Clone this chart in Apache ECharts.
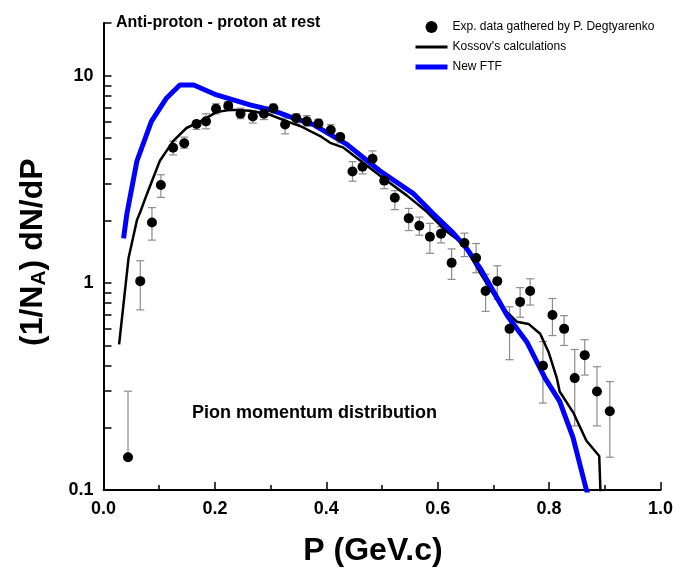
<!DOCTYPE html>
<html><head><meta charset="utf-8">
<script src="https://cdn.jsdelivr.net/npm/echarts@6/dist/echarts.min.js"></script>
<style>html,body{margin:0;padding:0;background:#fff}#c{width:676px;height:572px}</style>
</head><body><div id="c"></div>
<script>
// Experimental data (P in GeV/c)
const expP  = [0.044,0.066,0.087,0.103,0.125,0.145,0.167,0.184,0.202,0.224,0.246,0.268,0.288,0.305,0.326,0.346,0.365,0.386,0.408,0.425,0.447,0.465,0.483,0.504,0.523,0.548,0.567,0.586,0.606,0.625,0.648,0.669,0.686,0.707,0.729,0.748,0.766,0.789,0.806,0.827,0.846,0.864,0.886,0.909];
const expY  = [0.144,1.02,1.96,2.97,4.50,4.73,5.86,6.03,6.93,7.16,6.56,6.37,6.56,6.98,5.82,6.25,6.03,5.88,5.48,5.06,3.45,3.64,3.98,3.12,2.58,2.05,1.89,1.67,1.73,1.25,1.56,1.32,0.914,1.02,0.60,0.81,0.914,0.398,0.70,0.60,0.347,0.448,0.299,0.240];
const expHi = [0.30,1.28,2.31,3.33,4.84,5.06,6.08,6.56,7.33,7.52,6.98,6.79,6.93,7.30,6.25,6.56,6.43,6.17,5.82,5.27,3.85,3.97,4.34,3.30,2.79,2.29,2.08,1.94,1.87,1.46,1.74,1.55,1.10,1.21,0.767,0.949,1.047,0.521,0.841,0.695,0.477,0.532,0.394,0.334];
const expLo = [0.144,0.741,1.61,2.59,4.15,4.47,5.51,5.55,6.56,6.79,6.21,5.92,6.15,6.61,5.25,5.86,5.71,5.60,5.17,4.75,3.10,3.36,3.68,2.85,2.26,1.79,1.70,1.39,1.56,1.04,1.34,1.12,0.729,0.834,0.426,0.683,0.782,0.263,0.557,0.499,0.204,0.359,0.204,0.144];
// Kossov's calculations
const kosP = [0.028,0.045,0.060,0.066,0.078,0.101,0.125,0.149,0.174,0.203,0.227,0.263,0.299,0.329,0.354,0.389,0.407,0.431,0.466,0.496,0.545,0.581,0.616,0.640,0.652,0.676,0.713,0.742,0.763,0.784,0.799,0.814,0.819,0.844,0.867,0.890,0.896];
const kosY = [0.505,1.32,2.01,2.2,2.69,3.88,4.84,5.6,6.03,6.68,6.86,6.79,6.49,6.03,5.71,5.12,4.75,4.5,3.81,3.30,2.64,2.20,1.77,1.59,1.45,1.12,0.775,0.65,0.634,0.568,0.464,0.346,0.299,0.235,0.173,0.146,0.05];
// New FTF
const ftfP = [0.036,0.042,0.060,0.086,0.113,0.137,0.162,0.203,0.263,0.299,0.317,0.334,0.377,0.437,0.496,0.557,0.592,0.628,0.652,0.676,0.688,0.725,0.760,0.793,0.819,0.843,0.867,0.873];
const ftfY = [1.64,2.16,3.88,6.03,7.80,9.03,9.03,8.09,7.24,6.86,6.61,6.35,5.82,4.67,3.48,2.69,2.16,1.74,1.47,1.18,1.04,0.695,0.519,0.346,0.268,0.179,0.100,0.09];
// Axis ticks
const yMajor = [0.1, 1, 10];
const yTicks = [0.2,0.3,0.4,0.5,0.6,0.7,0.8,0.9,1,2,3,4,5,6,7,8,9,10,18];

const FONT = "'Liberation Sans', Arial, sans-serif";
const chart = echarts.init(document.getElementById('c'), null, {renderer:'canvas'});

const zip = (a,b) => a.map((v,i)=>[v,b[i]]);
const errData = expP.map((p,i)=>[p, expLo[i], expHi[i]]);

chart.setOption({
  animation:false,
  backgroundColor:'#fff',
  grid:{left:103.5, right:15.5, top:23, bottom:78, containLabel:false},
  xAxis:{
    type:'value', min:0, max:1, interval:0.2,
    axisLine:{show:true, lineStyle:{color:'#000', width:2}},
    axisTick:{show:true, inside:true, length:8, lineStyle:{color:'#000', width:1.5}},
    minorTick:{show:true, splitNumber:2, length:5, lineStyle:{color:'#000', width:1.5}},
    splitLine:{show:false},
    axisLabel:{color:'#000', fontFamily:FONT, fontWeight:'bold', fontSize:18, margin:10, formatter:v=>v.toFixed(1)},
    name:'P (GeV.c)', nameLocation:'middle', nameGap:45,
    nameTextStyle:{color:'#000', fontFamily:FONT, fontWeight:'bold', fontSize:32, padding:[0,18,0,0]}
  },
  yAxis:{
    type:'log', logBase:10, min:0.1, max:18,
    axisLine:{show:true, lineStyle:{color:'#000', width:2}},
    axisTick:{show:true, inside:true, length:8, customValues:yTicks, lineStyle:{color:'#000', width:1.5}},
    splitLine:{show:false},
    axisLabel:{color:'#000', fontFamily:FONT, fontWeight:'bold', fontSize:18, margin:10, customValues:yMajor,
      formatter:v=> (Math.abs(v-0.1)<1e-9 ? '0.1' : String(Math.round(v)))}
  },
  legend:{
    orient:'vertical', left:413, top:21, padding:0, itemWidth:32, itemHeight:12, itemGap:8,
    textStyle:{color:'#000', fontFamily:FONT, fontSize:12},
    data:[
      {name:'Exp. data gathered by P. Degtyarenko', icon:'circle', itemStyle:{opacity:1}},
      {name:"Kossov's calculations", itemStyle:{opacity:0}, lineStyle:{width:3, color:'#000'}},
      {name:'New FTF', itemStyle:{opacity:0}, lineStyle:{width:5, color:'#0000ff'}}
    ]
  },
  title:{text:'Anti-proton - proton at rest', left:111, top:10,
    textStyle:{color:'#000', fontFamily:FONT, fontWeight:'bold', fontSize:16}},
  graphic:[
    {type:'text', left:192, top:404, style:{text:'Pion momentum distribution', fill:'#000', font:"bold 18px 'Liberation Sans', Arial"}},
    {type:'text', x:16, y:346, rotation:Math.PI/2,
      style:{text:'{a|(1/N}{s|A}{a|) dN/dP}', fill:'#000',
        rich:{a:{fontFamily:FONT, fontWeight:'bold', fontSize:32, fill:'#000'},
              s:{fontFamily:FONT, fontWeight:'bold', fontSize:21, fill:'#000', verticalAlign:'bottom', padding:[13,0,0,0]}}}}
  ],
  series:[
    {type:'custom', name:'err', z:2, clip:true,
      renderItem:(params, api)=>{
        const x=api.value(0), lo=api.value(1), hi=api.value(2);
        const a=api.coord([x,hi]), b=api.coord([x,lo]);
        const w=4, st={stroke:'#8c8c8c', lineWidth:1.2};
        return {type:'group', children:[
          {type:'line', shape:{x1:a[0],y1:a[1],x2:b[0],y2:b[1]}, style:st},
          {type:'line', shape:{x1:a[0]-w,y1:a[1],x2:a[0]+w,y2:a[1]}, style:st},
          {type:'line', shape:{x1:b[0]-w,y1:b[1],x2:b[0]+w,y2:b[1]}, style:st}
        ]};
      },
      encode:{x:0, y:[1,2]}, data:errData, silent:true},
    {type:'line', name:"Kossov's calculations", data:zip(kosP,kosY), symbol:'none', z:3,
      lineStyle:{color:'#000', width:2.5}, itemStyle:{color:'#000'}},
    {type:'line', name:'New FTF', data:zip(ftfP,ftfY), symbol:'none', z:4,
      lineStyle:{color:'#0000ff', width:5}, itemStyle:{color:'#0000ff'}},
    {type:'scatter', name:'Exp. data gathered by P. Degtyarenko', data:zip(expP,expY), symbol:'circle', symbolSize:10, z:5,
      itemStyle:{color:'#000', opacity:1}}
  ]
});
</script></body></html>
